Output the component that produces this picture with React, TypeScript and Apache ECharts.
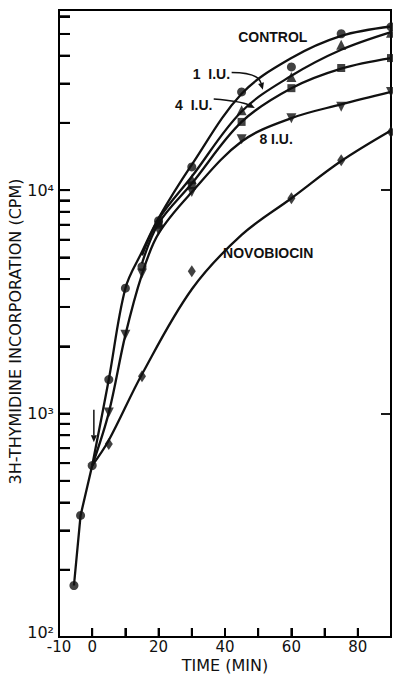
import React, { useEffect, useRef } from "react";
import * as echarts from "echarts";

// ---- data ----
const preControlCurve: number[][] = [[-5.5, 170], [-3.5, 350], [0, 585]];
const controlCurve: number[][] = [[0, 585], [5, 1420], [10, 3640], [15, 5300], [20, 7500], [30, 13000], [45, 27000], [60, 39000], [75, 49000], [90, 54000]];
const iu1Curve: number[][] = [[15, 5100], [20, 7400], [30, 11500], [45, 22500], [60, 32500], [75, 42500], [90, 51000]];
const iu4Curve: number[][] = [[15, 4700], [20, 7100], [30, 10700], [45, 20200], [60, 28600], [75, 35000], [90, 39000]];
const iu8Curve: number[][] = [[0, 585], [5, 1010], [10, 2250], [15, 4200], [20, 6400], [30, 9800], [45, 16500], [60, 21000], [75, 24200], [90, 27500]];
const novoCurve: number[][] = [[0, 585], [5, 760], [15, 1500], [30, 3600], [45, 6300], [60, 9200], [75, 13500], [90, 18500]];

const controlPts: number[][] = [[-5.5, 170], [-3.5, 350], [0, 585], [5, 1420], [10, 3640], [15, 4550], [20, 7300], [30, 12700], [45, 27500], [60, 35600], [75, 50100], [90, 53800]];
const iu1Pts: number[][] = [[20, 7200], [30, 11200], [45, 22800], [60, 32100], [75, 44700], [90, 50600]];
const iu4Pts: number[][] = [[20, 7000], [30, 10500], [45, 20200], [60, 28600], [75, 35200], [90, 39000]];
const iu8Pts: number[][] = [[5, 1010], [10, 2250], [15, 4240], [20, 6600], [30, 9800], [45, 16900], [60, 21000], [75, 23600], [90, 27500]];
const novoPts: number[][] = [[5, 730], [15, 1470], [30, 4330], [60, 9200], [75, 13600], [90, 18200]];

const labelTexts: string[] = ["CONTROL", "1  I.U.", "4  I.U.", "8 I.U.", "NOVOBIOCIN"];
const labelPos: number[][] = [[54.4, 48500], [35.9, 33200], [30.6, 24000], [55.4, 16900], [53, 5210]];
const arrowStarts: number[][] = [[42, 33600], [36.6, 25600], [0.5, 1040]];
const arrowEnds: number[][] = [[51.4, 28100], [49, 23300], [0.5, 745]];
const arrowBends: number[] = [1, 0.5, 0];

const xMin = -10;
const xMax = 90;
const xStep = 10;
const yMin = 100;
const yMax = 64000;
const decades = [100, 1000, 10000];
const multipliers = [1, 2, 3, 4, 5, 6, 7, 8, 9];

const INK = "#111";
const FONT = "DejaVu Sans";

export default function App() {
  const ref = useRef<HTMLDivElement>(null);
  useEffect(() => {
    document.body.style.margin = "0";
    const chart = echarts.init(ref.current!, null, { renderer: "svg" });

    const minorTicks: number[] = [];
    decades.forEach((d) =>
      multipliers.forEach((m) => {
        const v = d * m;
        if (v <= yMax) minorTicks.push(v);
      })
    );
    const xTicks: number[] = [];
    for (let x = xMin + xStep; x < xMax; x += xStep) xTicks.push(x);
    const arrows: number[][] = arrowStarts.map((s, i) => [s[0], s[1], arrowEnds[i][0], arrowEnds[i][1]]);

    const curve = (data: number[][], smooth: number | boolean) => ({
      type: "line",
      data,
      smooth,
      symbol: "none",
      lineStyle: { color: INK, width: 2.3 },
      z: 2,
    });
    const pts = (data: number[][], symbol: string, size: any, rotate = 0) => ({
      type: "scatter",
      data,
      symbol,
      symbolSize: size,
      symbolRotate: rotate,
      itemStyle: { color: INK },
      z: 4,
    });

    const sup: Record<number, string> = { 2: "²", 3: "³", 4: "⁴" };
    const yBase = {
      type: "log",
      logBase: 10,
      min: yMin,
      max: yMax,
      splitLine: { show: false },
    };

    chart.setOption({
      animation: false,
      backgroundColor: "#fff",
      grid: {
        left: 59,
        right: 2,
        top: 10,
        bottom: 37,
        show: true,
        backgroundColor: "transparent",
        borderColor: "#000",
        borderWidth: 2,
        containLabel: false,
        outerBoundsMode: "none",
      },
      xAxis: {
        type: "value",
        min: xMin,
        max: xMax,
        interval: xStep,
        name: "TIME (MIN)",
        nameLocation: "middle",
        nameGap: 20,
        nameMoveOverlap: false,
        nameTextStyle: { fontFamily: FONT, fontSize: 16, color: INK },
        axisLine: { show: true, onZero: false, lineStyle: { color: "#000", width: 2 } },
        axisTick: { show: true, inside: true, length: 9, lineStyle: { color: "#000", width: 2 } },
        axisLabel: {
          fontFamily: FONT,
          fontSize: 15,
          color: INK,
          margin: 2,
          formatter: (v: number) => ((v === -10 || v % 20 === 0) && v !== xMax ? String(v) : ""),
        },
        splitLine: { show: false },
      },
      yAxis: [
        {
          ...yBase,
          position: "left",
          name: "3H-THYMIDINE INCORPORATION (CPM)",
          nameLocation: "middle",
          nameGap: 36,
          nameMoveOverlap: false,
          nameTextStyle: { fontFamily: FONT, fontSize: 16, color: INK, padding: [0, 16, 0, 0] },
          axisLine: { show: true, onZero: false, lineStyle: { color: "#000", width: 2 } },
          axisTick: { show: true, inside: true, length: 11, customValues: minorTicks, lineStyle: { color: "#000", width: 2 } },
          axisLabel: {
            fontFamily: FONT,
            fontSize: 16,
            color: INK,
            margin: 5,
            customValues: decades,
            formatter: (v: number) => {
              const e = Math.round(Math.log10(v));
              return e === 2 ? "{lo|10" + sup[e] + "}" : "10" + sup[e];
            },
            rich: { lo: { fontFamily: FONT, fontSize: 16, color: INK, padding: [0, 0, 10, 0] } },
          },
        },
        {
          ...yBase,
          position: "right",
          axisLine: { show: true, onZero: false, lineStyle: { color: "#000", width: 2 } },
          axisTick: { show: true, inside: true, length: 10, customValues: decades, lineStyle: { color: "#000", width: 1.8 } },
          axisLabel: { show: false },
        },
      ],
      series: [
        curve(preControlCurve, false),
        curve(controlCurve, 0.35),
        curve(iu1Curve, 0.35),
        curve(iu4Curve, 0.35),
        curve(iu8Curve, 0.35),
        curve(novoCurve, 0.35),
        pts(controlPts, "circle", 9),
        pts(iu1Pts, "triangle", 10),
        pts(iu4Pts, "rect", 8),
        pts(iu8Pts, "triangle", 10, 180),
        pts(novoPts, "diamond", [8, 12]),
        {
          // left (y) ticks from the y scale, pointing into the plot
          type: "custom",
          data: minorTicks.map((v) => [5, v]),
          encode: { x: 0, y: 1 },
          clip: false,
          silent: true,
          z: 6,
          renderItem: (params: any, api: any) => {
            const p = api.coord([xMin, api.value(1)]);
            return {
              type: "rect",
              shape: { x: p[0], y: p[1] - 1, width: 11, height: 2 },
              style: { fill: "#000" },
            };
          },
        },
        {
          // bottom (x) ticks from the x scale, pointing up into the plot
          type: "custom",
          data: xTicks.map((x) => [x, 1000]),
          encode: { x: 0, y: 1 },
          clip: false,
          silent: true,
          z: 6,
          renderItem: (params: any, api: any) => {
            const p = api.coord([api.value(0), yMin]);
            return {
              type: "rect",
              shape: { x: p[0] - 1, y: p[1] - 9, width: 2, height: 9 },
              style: { fill: "#000" },
            };
          },
        },
        {
          type: "custom",
          data: labelPos,
          encode: { x: 0, y: 1 },
          z: 5,
          silent: true,
          renderItem: (params: any, api: any) => {
            const p = api.coord([api.value(0), api.value(1)]);
            return {
              type: "text",
              x: p[0],
              y: p[1],
              style: {
                text: labelTexts[params.dataIndex],
                fontFamily: "Liberation Sans",
                fontWeight: "bold",
                fontSize: 14,
                fill: INK,
                align: "center",
                verticalAlign: "middle",
              },
            };
          },
        },
        {
          type: "custom",
          data: arrows,
          encode: { x: [0, 2], y: [1, 3] },
          z: 5,
          silent: true,
          renderItem: (params: any, api: any) => {
            const p1 = api.coord([api.value(0), api.value(1)]);
            const p2 = api.coord([api.value(2), api.value(3)]);
            const bend = arrowBends[params.dataIndex];
            const cx = p1[0] + (p2[0] - p1[0]) * (0.5 + 0.35 * bend);
            const cy = p1[1] + (p2[1] - p1[1]) * (0.5 - 0.5 * bend);
            let dx = p2[0] - cx;
            let dy = p2[1] - cy;
            const len = Math.sqrt(dx * dx + dy * dy) || 1;
            dx /= len;
            dy /= len;
            const L = 7;
            const W = 3;
            const bx = p2[0] - dx * L;
            const by = p2[1] - dy * L;
            return {
              type: "group",
              children: [
                {
                  type: "bezierCurve",
                  shape: { x1: p1[0], y1: p1[1], x2: bx, y2: by, cpx1: cx, cpy1: cy },
                  style: { stroke: INK, lineWidth: 1.5, fill: "none" },
                },
                {
                  type: "polygon",
                  shape: {
                    points: [
                      [p2[0], p2[1]],
                      [bx - dy * W, by + dx * W],
                      [bx + dy * W, by - dx * W],
                    ],
                  },
                  style: { fill: INK },
                },
              ],
            };
          },
        },
      ],
    });
    return () => chart.dispose();
  }, []);
  return <div ref={ref} style={{ position: "fixed", left: 0, top: 0, width: 393, height: 674 }} />;
}
